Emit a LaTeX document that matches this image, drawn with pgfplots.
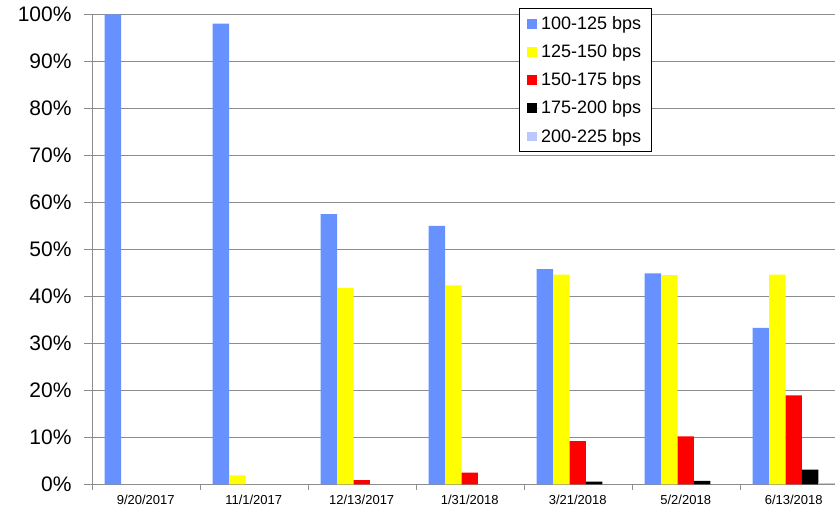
\documentclass[border=0pt]{standalone}
\usepackage{pgfplots}
\pgfplotsset{compat=1.18}
\usepackage{fontspec}
\setmainfont{Liberation Sans}
\definecolor{cA}{RGB}{102,145,255}
\definecolor{cB}{RGB}{255,255,0}
\definecolor{cC}{RGB}{255,0,0}
\definecolor{cD}{RGB}{0,0,0}
\definecolor{cE}{RGB}{185,200,255}
\definecolor{gridgray}{RGB}{140,140,140}
\begin{document}
\begin{tikzpicture}
\clip (0,0) rectangle (835pt,510pt);
\begin{axis}[
  at={(91.7pt,25.7pt)}, anchor=south west,
  scale only axis, width=756pt, height=470pt,
  xmin=-0.5, xmax=6.5, ymin=0, ymax=100,
  ybar=0pt, bar width=16.4pt,
  axis x line*=bottom, axis y line*=left,
  axis line style={draw=gridgray, -},
  tick pos=left, tick align=outside,
  xtick={0,...,6},
  xticklabels={9/20/2017,11/1/2017,12/13/2017,1/31/2018,3/21/2018,5/2/2018,6/13/2018},
  minor xtick={-0.5,0.5,...,6.5},
  major x tick style={draw=none},
  minor x tick style={draw=gridgray},
  major y tick style={draw=gridgray},
  major tick length=7.7pt, minor tick length=5.5pt,
  ytick={0,10,...,100},
  yticklabels={0\%,10\%,20\%,30\%,40\%,50\%,60\%,70\%,80\%,90\%,100\%},
  ymajorgrids, grid style={draw=gridgray, line width=0.8pt},
  xticklabel style={font=\fontsize{13}{15}\selectfont},
  yticklabel style={font=\fontsize{21}{25}\selectfont, xshift=-9pt},
  legend style={at={(rel axis cs:0.5656,1.0128)}, anchor=north west, draw=black, fill=white,
    font=\fontsize{18}{21}\selectfont, legend cell align=left, row sep=9.6pt,
    inner xsep=8pt, inner ysep=6pt},
  legend image code/.code={\path (0pt,0pt) -- (11.7pt,0pt);\fill[#1] (0pt,-4.8pt) rectangle (9.7pt,4.8pt);},
]
\addplot[fill=cA, draw=none] coordinates {(0,100)(1,98)(2,57.5)(3,55)(4,45.8)(5,44.9)(6,33.3)};
\addplot[fill=cB, draw=none] coordinates {(1,1.9)(2,41.8)(3,42.3)(4,44.6)(5,44.5)(6,44.6)};
\addplot[fill=cC, draw=none] coordinates {(2,0.9)(3,2.5)(4,9.2)(5,10.2)(6,18.9)};
\addplot[fill=cD, draw=none] coordinates {(4,0.55)(5,0.75)(6,3.1)};
\addplot[fill=cE, draw=none] coordinates {(6,0.2)};
\legend{100-125 bps,125-150 bps,150-175 bps,175-200 bps,200-225 bps}
\end{axis}
\end{tikzpicture}
\end{document}
